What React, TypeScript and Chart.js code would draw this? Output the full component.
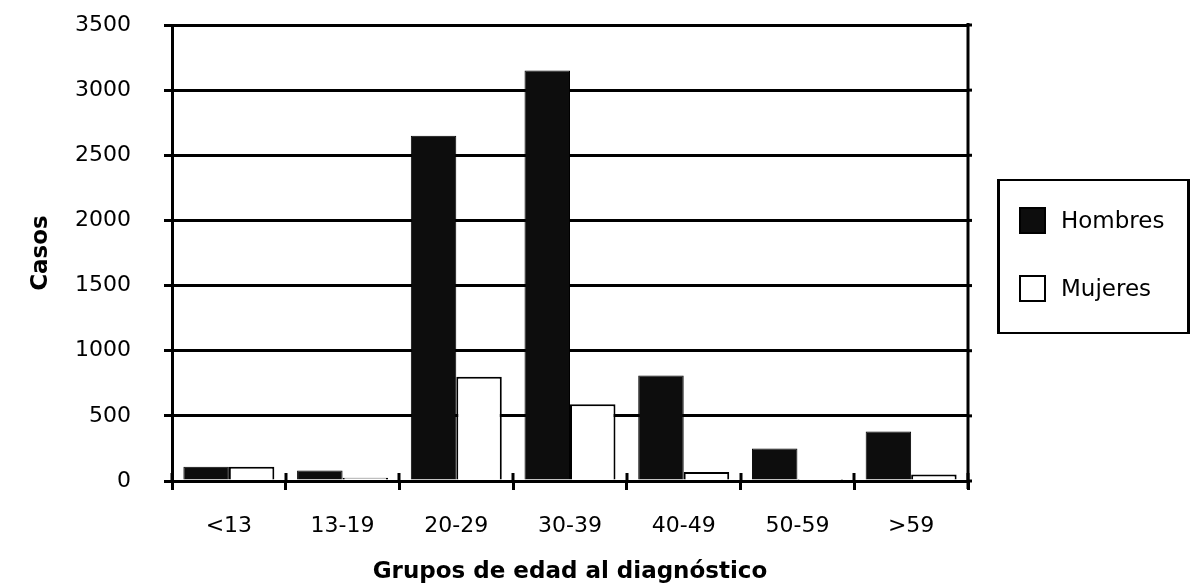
import React, { useEffect, useRef } from "react";
import { Chart, registerables } from "chart.js";

Chart.register(...registerables);

const categories = ["<13", "13-19", "20-29", "30-39", "40-49", "50-59", ">59"];
const hombres = [110, 80, 2650, 3150, 810, 250, 380];
const mujeres = [110, 25, 800, 590, 70, 5, 50];
const seriesNames = ["Hombres", "Mujeres"];
const yTitle = "Casos";
const xTitle = "Grupos de edad al diagnóstico";

const FONT = "'DejaVu Sans', Verdana, sans-serif";

const framePlugin = {
  id: "framePlugin",
  afterDraw(chart: any) {
    const { ctx, chartArea, scales } = chart;
    ctx.save();
    ctx.strokeStyle = "#000";
    ctx.lineWidth = 3;
    // right border with small ticks
    ctx.beginPath();
    ctx.moveTo(chartArea.right, chartArea.top - 2);
    ctx.lineTo(chartArea.right, chartArea.bottom + 8);
    ctx.stroke();
    const y = scales.y;
    y.ticks.forEach((t: any) => {
      const py = y.getPixelForValue(t.value);
      ctx.beginPath();
      ctx.moveTo(chartArea.right, py);
      ctx.lineTo(chartArea.right + 4, py);
      ctx.stroke();
    });
    // x category boundary ticks extending slightly above the axis
    const n = categories.length;
    const w = (chartArea.right - chartArea.left) / n;
    for (let i = 0; i <= n; i++) {
      const px = Math.round(chartArea.left + i * w);
      ctx.beginPath();
      ctx.moveTo(px, chartArea.bottom - 8);
      ctx.lineTo(px, chartArea.bottom);
      ctx.stroke();
    }
    ctx.restore();
  },
};

export default function App() {
  const ref = useRef<HTMLCanvasElement | null>(null);
  useEffect(() => {
    if (!ref.current) return;
    const chart = new Chart(ref.current, {
      type: "bar",
      data: {
        labels: categories,
        datasets: [
          {
            label: seriesNames[0],
            data: hombres,
            backgroundColor: "#0d0d0d",
            borderColor: "#000",
            borderWidth: 1,
            categoryPercentage: 0.8,
            barPercentage: 1.0,
          },
          {
            label: seriesNames[1],
            data: mujeres,
            backgroundColor: "#ffffff",
            borderColor: "#000",
            borderWidth: 2,
            categoryPercentage: 0.8,
            barPercentage: 1.0,
          },
        ],
      },
      options: {
        animation: false,
        responsive: true,
        maintainAspectRatio: false,
        layout: { padding: { left: 0, right: 229, top: 25, bottom: 0 } },
        plugins: {
          legend: { display: false },
          tooltip: { enabled: false },
        },
        scales: {
          x: {
            afterFit(scale: any) {
              scale.height = 105;
              scale.paddingLeft = 0;
              scale.paddingRight = 0;
            },
            grid: {
              display: true,
              drawOnChartArea: false,
              drawTicks: true,
              tickLength: 9,
              color: "#000",
              lineWidth: 3,
              offset: true,
            },
            border: { display: true, color: "#000", width: 3 },
            ticks: {
              color: "#000",
              font: { family: FONT, size: 22 },
              padding: 23,
            },
            title: {
              display: true,
              text: xTitle,
              color: "#000",
              font: { family: FONT, size: 23, weight: "bold" },
              padding: { top: 0, bottom: 0 },
            },
          },
          y: {
            min: 0,
            max: 3500,
            afterFit(scale: any) {
              scale.width = 172;
              scale.paddingTop = 0;
              scale.paddingBottom = 0;
            },
            ticks: {
              stepSize: 500,
              color: "#000",
              font: { family: FONT, size: 22 },
              padding: 33,
              callback: (v: any) => String(v),
            },
            grid: {
              color: "#000",
              lineWidth: 3,
              drawTicks: true,
              tickLength: 8,
            },
            border: { display: true, color: "#000", width: 3 },
            title: {
              display: true,
              text: yTitle,
              color: "#000",
              font: { family: FONT, size: 23, weight: "bold" },
              padding: { top: 27, bottom: 0 },
            },
          },
        },
      },
      plugins: [framePlugin],
    });
    return () => chart.destroy();
  }, []);

  const swatch = (fill: string): React.CSSProperties => ({
    display: "inline-block",
    width: 27,
    height: 27,
    background: fill,
    border: "2px solid #000",
    boxSizing: "border-box",
    marginRight: 15,
  });

  return (
    <div style={{ position: "fixed", left: 0, top: 0, width: 1197, height: 586, background: "#fff" }}>
      <canvas ref={ref} />
      <div
        style={{
          position: "absolute",
          left: 997,
          top: 179,
          width: 193,
          height: 155,
          borderLeft: "3px solid #000",
          borderRight: "3px solid #000",
          borderTop: "2px solid #000",
          borderBottom: "2px solid #000",
          boxSizing: "border-box",
          fontFamily: FONT,
          fontSize: 23,
          color: "#000",
        }}
      >
        <div style={{ position: "absolute", left: 19, top: 24, display: "flex", alignItems: "center", height: 30 }}>
          <span style={swatch("#0d0d0d")} />
          <span>{seriesNames[0]}</span>
        </div>
        <div style={{ position: "absolute", left: 19, top: 92, display: "flex", alignItems: "center", height: 30 }}>
          <span style={swatch("#fff")} />
          <span>{seriesNames[1]}</span>
        </div>
      </div>
    </div>
  );
}
